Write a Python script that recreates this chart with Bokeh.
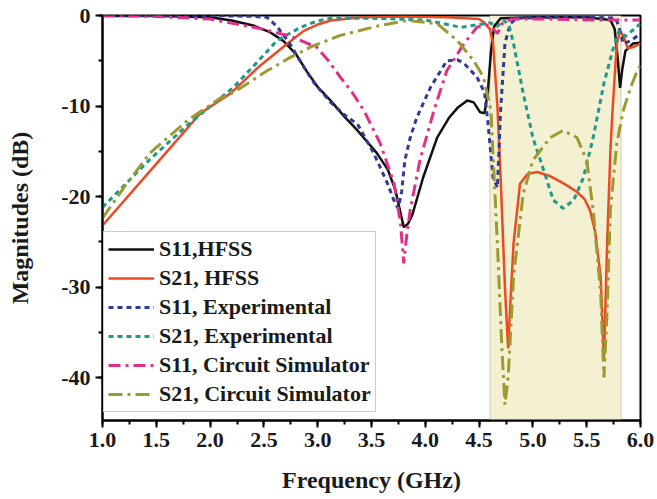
from bokeh.plotting import figure
from bokeh.models import Range1d, FixedTicker, BoxAnnotation, Legend
from bokeh.embed import file_html
from bokeh.resources import INLINE

# ---------------- data ----------------
s11_hfss_x = [1.0, 1.5, 2.0, 2.2, 2.4, 2.55, 2.68, 2.8, 2.9, 3.0, 3.12, 3.25, 3.37, 3.55, 3.65,
              3.72, 3.80, 3.84, 3.88, 3.98, 4.11, 4.22, 4.30, 4.39, 4.45, 4.51, 4.55, 4.58, 4.61,
              4.64, 4.70, 5.0, 5.5, 5.72, 5.76, 5.79, 5.81, 5.83, 5.86, 5.93, 6.0]
s11_hfss_y = [-0.05, -0.05, -0.2, -0.55, -1.1, -1.8, -2.8, -4.3, -6.2, -7.9, -9.4, -11.2, -12.7,
              -15.2, -17.0, -19.2, -23.4, -23.0, -22.0, -17.9, -13.5, -11.3, -10.2, -9.4, -9.6,
              -10.7, -10.8, -8.6, -4.0, -1.2, -0.3, -0.2, -0.2, -0.5, -1.5, -5.0, -8.0, -6.0,
              -3.9, -3.1, -3.0]

s21_hfss_x = [1.0, 1.5, 1.91, 2.19, 2.45, 2.72, 2.87, 3.0, 3.12, 3.4, 3.8, 4.2, 4.5, 4.55, 4.6,
              4.63, 4.67, 4.70, 4.74, 4.77, 4.79, 4.82, 4.88, 4.95, 5.04, 5.15, 5.23, 5.32, 5.41,
              5.48, 5.53, 5.58, 5.63, 5.66, 5.69, 5.72, 5.74, 5.78, 5.81, 5.85, 5.88, 5.93, 6.0]
s21_hfss_y = [-23.2, -16.4, -10.8, -8.6, -5.7, -3.1, -1.7, -1.0, -0.55, -0.2, -0.1, -0.2, -0.4,
              -0.8, -1.5, -3.1, -10.0, -17.9, -30.0, -36.8, -32.0, -25.2, -18.6, -17.5, -17.3,
              -17.7, -18.2, -18.8, -19.5, -20.3, -21.5, -24.0, -28.9, -38.1, -25.2, -15.0,
              -10.5, -3.1, -1.7, -2.5, -3.6, -3.5, -3.1]

s11_exp_x = [1.0, 1.5, 2.0, 2.4, 2.53, 2.62, 2.74, 2.86, 2.97, 3.12, 3.25, 3.37, 3.52, 3.65, 3.72,
             3.75, 3.78, 3.81, 3.86, 3.92, 4.05, 4.20, 4.30, 4.36, 4.48, 4.55, 4.58, 4.63, 4.67,
             4.70, 4.74, 4.79, 4.85, 5.2, 5.6, 5.77, 5.80, 5.84, 5.91, 6.0]
s11_exp_y = [0.0, 0.0, 0.0, -0.1, -0.2, -1.2, -3.1, -5.5, -7.5, -9.6, -11.0, -12.0, -15.2, -18.6,
             -20.8, -21.3, -19.5, -16.0, -13.5, -11.3, -7.9, -5.0, -4.9, -5.3, -6.8, -8.5, -11.6,
             -17.9, -19.0, -10.5, -3.1, -0.9, -0.3, -0.2, -0.2, -0.3, -1.3, -3.1, -2.8, -2.0]

s21_exp_x = [1.0, 1.44, 1.8, 2.22, 2.45, 2.62, 2.84, 3.0, 3.12, 3.5, 4.0, 4.33, 4.5, 4.6, 4.67,
             4.73, 4.78, 4.82, 4.91, 5.0, 5.10, 5.19, 5.28, 5.38, 5.47, 5.56, 5.66, 5.74, 5.80,
             5.86, 5.93, 6.0]
s21_exp_y = [-21.2, -15.9, -12.0, -7.9, -5.0, -2.8, -1.3, -0.6, -0.3, -0.3, -0.5, -1.3, -1.0,
             -0.8, -1.2, -0.5, -1.2, -3.1, -8.6, -13.5, -17.1, -20.4, -21.3, -20.4, -17.9, -13.5,
             -7.5, -3.9, -1.7, -2.3, -1.6, -0.9]

s11_cir_x = [1.0, 1.5, 2.0, 2.22, 2.45, 2.62, 2.75, 2.99, 3.1, 3.21, 3.32, 3.43, 3.58, 3.71, 3.77,
             3.80, 3.83, 3.86, 3.95, 4.08, 4.20, 4.36, 4.48, 4.56, 4.62, 4.67, 4.72, 4.8, 5.2,
             5.6, 5.8, 6.0]
s11_cir_y = [0.0, -0.1, -0.4, -0.9, -1.4, -1.9, -2.3, -3.5, -5.0, -6.8, -8.5, -10.5, -14.1, -18.6,
             -23.0, -27.4, -24.0, -21.5, -16.0, -10.5, -6.1, -3.1, -1.3, -1.0, -1.3, -2.0, -0.8,
             -0.4, -0.4, -0.5, -0.5, -0.5]

s21_cir_x = [1.0, 1.2, 1.44, 1.8, 2.1, 2.22, 2.53, 2.75, 2.95, 3.21, 3.58, 3.83, 4.11, 4.30, 4.45,
             4.54, 4.61, 4.67, 4.71, 4.74, 4.77, 4.82, 4.91, 5.0, 5.16, 5.28, 5.41, 5.50, 5.56,
             5.63, 5.66, 5.69, 5.72, 5.78, 5.84, 5.91, 5.97, 6.0]
s21_cir_y = [-22.4, -19.0, -15.2, -11.5, -9.1, -8.5, -6.1, -4.6, -3.4, -2.2, -1.1, -0.55, -0.9,
             -2.8, -5.0, -6.8, -10.5, -25.2, -36.3, -43.0, -40.0, -28.9, -19.7, -16.0, -13.5,
             -12.7, -13.5, -16.0, -21.5, -30.7, -40.0, -32.6, -21.5, -14.1, -10.5, -7.9, -6.1,
             -5.5]

band_edges = [4.6, 5.82]

x_ticks = [1.0, 1.5, 2.0, 2.5, 3.0, 3.5, 4.0, 4.5, 5.0, 5.5, 6.0]
y_ticks = [-40, -30, -20, -10, 0]

labels = ["S11,HFSS", "S21, HFSS", "S11, Experimental", "S21, Experimental",
          "S11, Circuit Simulator", "S21, Circuit Simulator"]

# ---------------- figure ----------------
FONT = "Liberation Serif"

p = figure(width=657, height=499, output_backend="svg", toolbar_location=None,
           x_range=Range1d(1.0, 6.0), y_range=Range1d(-44.75, 0.0),
           min_border_left=102, min_border_right=17, min_border_top=15, min_border_bottom=79)
p.background_fill_color = "white"
p.border_fill_color = "white"
p.outline_line_color = "black"
p.outline_line_width = 2
p.xgrid.visible = False
p.ygrid.visible = False

p.add_layout(BoxAnnotation(left=band_edges[0], right=band_edges[1],
                           fill_color="#F4F0D2", fill_alpha=1.0,
                           line_color="#9E9E9E", line_width=1.5, level="underlay"))

styles = [
    (s11_hfss_x, s11_hfss_y, "#111111", 2.5, "solid"),
    (s21_hfss_x, s21_hfss_y, "#EC4A22", 2.5, "solid"),
    (s11_exp_x, s11_exp_y, "#2E3C96", 3.0, "5 4"),
    (s21_exp_x, s21_exp_y, "#1D9A8A", 3.0, "5 4"),
    (s11_cir_x, s11_cir_y, "#E0308A", 3.0, "12 5 3 5"),
    (s21_cir_x, s21_cir_y, "#9C9A30", 3.0, "14 5 3 5"),
]

renderers = []
for (xs, ys, c, w, d) in styles:
    r = p.line(xs, ys, line_color=c, line_width=w, line_dash=d)
    renderers.append(r)

legend = Legend(items=[(lab, [r]) for lab, r in zip(labels, renderers)],
                location=(1, 8))
legend.label_text_font = FONT
legend.label_text_font_style = "bold"
legend.label_text_font_size = "22px"
legend.label_text_color = "#1a1a1a"
legend.glyph_width = 46
legend.label_standoff = 5
legend.padding = 4
legend.spacing = 3
legend.margin = 0
legend.border_line_color = "#9a9a9a"
legend.border_line_width = 1.5
legend.background_fill_color = "white"
legend.background_fill_alpha = 1.0
p.add_layout(legend)

# axes
minor_x = [1.0 + 0.25 * i for i in range(21)]
minor_y = [-45 + 5 * i for i in range(10)]
p.xaxis.ticker = FixedTicker(ticks=x_ticks, minor_ticks=minor_x)
p.yaxis.ticker = FixedTicker(ticks=y_ticks, minor_ticks=minor_y)
p.xaxis.major_label_overrides = {t: f"{t:.1f}" for t in x_ticks}
p.yaxis.major_label_overrides = {t: f"{t}" for t in y_ticks}

for ax in (p.xaxis, p.yaxis):
    ax.axis_line_color = "black"
    ax.axis_line_width = 2
    ax.major_tick_line_color = "black"
    ax.major_tick_line_width = 2
    ax.minor_tick_line_color = "black"
    ax.minor_tick_line_width = 2
    ax.major_tick_out = 7
    ax.major_tick_in = 0
    ax.minor_tick_out = 4
    ax.minor_tick_in = 0
    ax.major_label_text_font = FONT
    ax.major_label_text_font_style = "bold"
    ax.major_label_text_font_size = "22px"
    ax.major_label_text_color = "#1a1a1a"
    ax.axis_label_text_font = FONT
    ax.axis_label_text_font_style = "bold"
    ax.axis_label_text_font_size = "24px"
    ax.axis_label_text_color = "#1a1a1a"
    ax.major_label_standoff = 5

p.xaxis.axis_label = "Frequency (GHz)"
p.yaxis.axis_label = "Magnitudes (dB)"
p.xaxis.axis_label_standoff = 17
p.yaxis.axis_label_standoff = 25

open("out.html", "w").write(file_html(p, INLINE))
